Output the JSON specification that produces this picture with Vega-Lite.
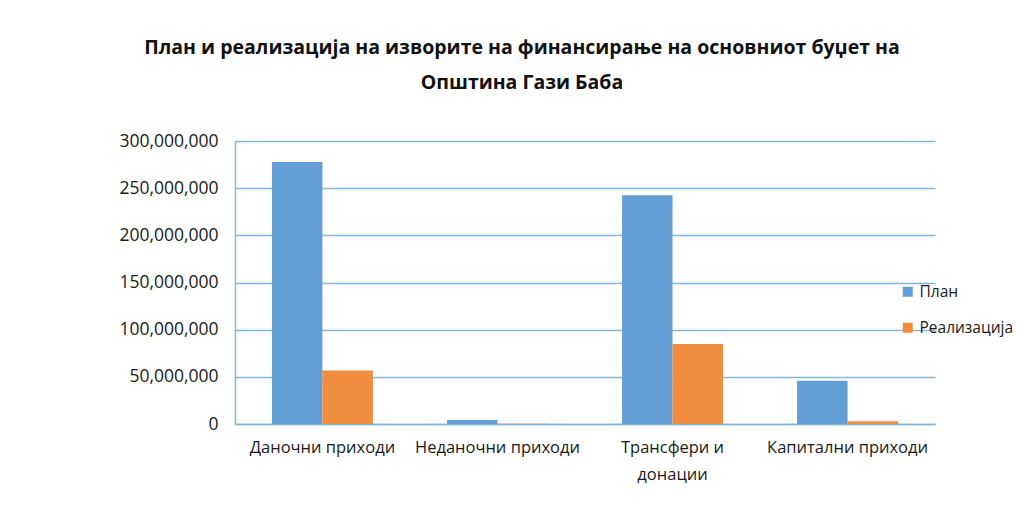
{
  "$schema": "https://vega.github.io/schema/vega-lite/v6.json",
  "width": 700,
  "height": 283,
  "autosize": {"type": "none"},
  "padding": {"left": 235, "top": 141, "right": 84, "bottom": 97},
  "background": "white",
  "title": {
    "text": ["План и реализација на изворите на финансирање на основниот буџет на", "Општина Гази Баба"],
    "font": "Open Sans",
    "fontSize": 19.5,
    "fontWeight": "bold",
    "color": "#111111",
    "anchor": "middle",
    "dx": -63,
    "offset": 39,
    "lineHeight": 35
  },
  "data": {
    "values": [
      {"category": "Даночни приходи", "series": "План", "value": 277800000},
      {"category": "Даночни приходи", "series": "Реализација", "value": 56800000},
      {"category": "Неданочни приходи", "series": "План", "value": 4200000},
      {"category": "Неданочни приходи", "series": "Реализација", "value": 300000},
      {"category": "Трансфери и донации", "series": "План", "value": 242500000},
      {"category": "Трансфери и донации", "series": "Реализација", "value": 84700000},
      {"category": "Капитални приходи", "series": "План", "value": 45900000},
      {"category": "Капитални приходи", "series": "Реализација", "value": 2800000}
    ]
  },
  "mark": {"type": "bar"},
  "encoding": {
    "x": {
      "field": "category",
      "type": "nominal",
      "sort": null,
      "scale": {"paddingInner": 0.423, "paddingOuter": 0.211},
      "axis": {
        "title": null,
        "labelAngle": 0,
        "labelFont": "Open Sans",
        "labelFontSize": 16.5,
        "labelColor": "#1a1a1a",
        "labelPadding": 15,
        "labelLineHeight": 27,
        "labelLimit": 200,
        "ticks": false,
        "domainColor": "#86b4d4",
        "domainWidth": 1.5,
        "labelExpr": "datum.label == 'Трансфери и донации' ? ['Трансфери и', 'донации'] : datum.label"
      }
    },
    "xOffset": {"field": "series", "type": "nominal", "scale": {"paddingInner": 0, "paddingOuter": 0}},
    "y": {
      "field": "value",
      "type": "quantitative",
      "scale": {"domain": [0, 300000000], "nice": false},
      "axis": {
        "title": null,
        "values": [0, 50000000, 100000000, 150000000, 200000000, 250000000, 300000000],
        "format": ",d",
        "labelFont": "Open Sans",
        "labelFontSize": 17.5,
        "labelColor": "#1a1a1a",
        "labelPadding": 17,
        "ticks": false,
        "domainColor": "#86b4d4",
        "domainWidth": 1.5,
        "grid": true,
        "gridColor": "#86b4d4",
        "gridWidth": 1.5
      }
    },
    "color": {
      "field": "series",
      "type": "nominal",
      "scale": {"domain": ["План", "Реализација"], "range": ["#639fd6", "#f18d3f"]},
      "legend": {
        "title": null,
        "orient": "none",
        "legendX": 665,
        "legendY": 143,
        "symbolType": "square",
        "symbolSize": 100,
        "symbolStrokeWidth": 0,
        "labelFont": "Open Sans",
        "labelFontSize": 15.5,
        "labelColor": "#1a1a1a",
        "labelOffset": 4,
        "rowPadding": 19
      }
    }
  },
  "config": {"view": {"stroke": null}}
}
